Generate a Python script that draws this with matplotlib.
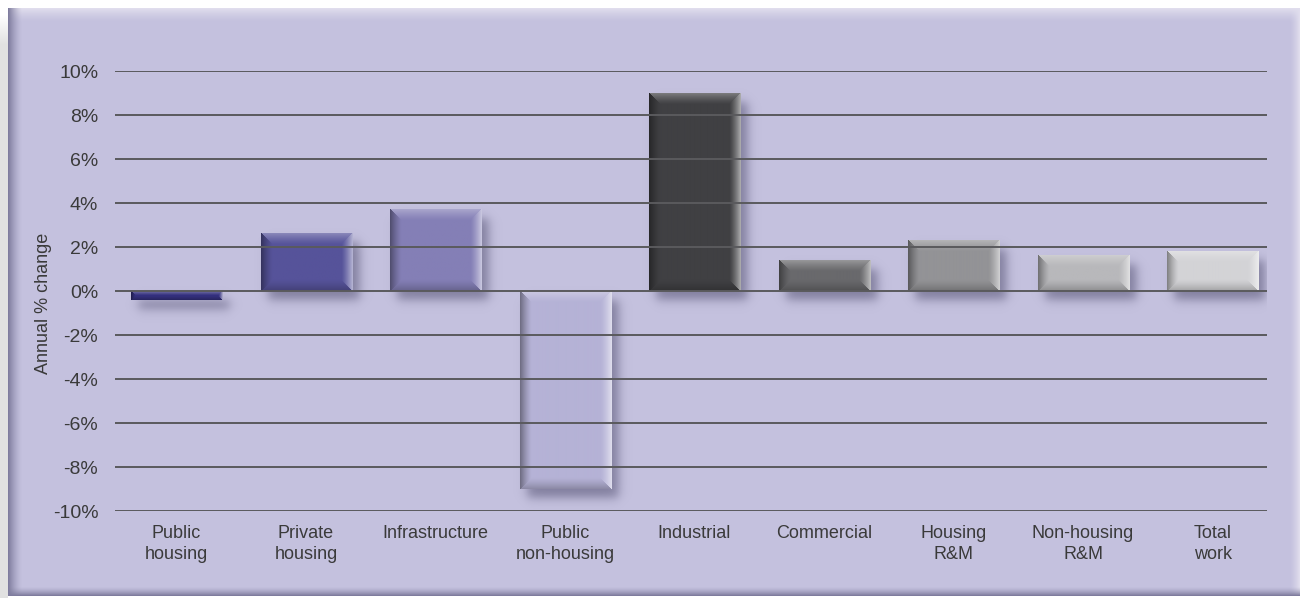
import numpy as np
import matplotlib
matplotlib.use("Agg")
import matplotlib.pyplot as plt
from matplotlib.colors import to_rgb

# ---- data -------------------------------------------------------------
categories = ["Public\nhousing", "Private\nhousing", "Infrastructure",
              "Public\nnon-housing", "Industrial", "Commercial",
              "Housing\nR&M", "Non-housing\nR&M", "Total\nwork"]
values = [-0.4, 2.6, 3.7, -9.0, 9.0, 1.4, 2.3, 1.6, 1.8]
bar_colors = ["#34307e", "#56539a", "#847fb6", "#b5b2d6", "#404043",
              "#69696c", "#939396", "#b8b8bb", "#d3d3d6"]
yticks = [-10, -8, -6, -4, -2, 0, 2, 4, 6, 8, 10]
ytick_labels = [f"{t}%" for t in yticks]
ylabel = "Annual % change"

W, H, DPI = 1311, 598, 100
PANEL = np.array([196, 193, 222]) / 255.0
TEXT = "#3a3a3a"

plt.rcParams["font.family"] = ["Liberation Sans", "DejaVu Sans"]

fig = plt.figure(figsize=(W / DPI, H / DPI), dpi=DPI, facecolor="white")

# ---- framed lavender panel behind the chart ---------------------------
bg = fig.add_axes([0, 0, 1, 1], zorder=-10)
bg.set_axis_off()
img = np.ones((H, W, 3))
yy, xx = np.mgrid[0:H, 0:W].astype(float)
px0, px1, py0, py1 = 8, 1300, 8, 596
inside = (xx >= px0) & (xx < px1) & (yy >= py0) & (yy < py1)
img[inside] = PANEL


def ramp(d, width):
    return np.clip(1 - d / width, 0, 1) ** 1.5


dark = np.array([0.50, 0.49, 0.62])
light = np.array([0.88, 0.87, 0.93])
left = ramp(xx - px0, 14)
top = ramp(yy - py0, 14)
right = ramp(px1 - 1 - xx, 10)
bottom = ramp(py1 - 1 - yy, 9)
for amt, col in [(top, light), (right, light), (left, dark), (bottom, dark)]:
    a = (amt * inside)[..., None]
    img = img * (1 - a) + col * a
# soft grey shadow to the left of the panel
sh = (xx < px0) & (yy > 14)
shade = np.clip((yy - 14) / 30, 0, 1) * 0.26
img[sh] = img[sh] * (1 - shade[sh][:, None]) + np.array([0.55, 0.55, 0.55]) * shade[sh][:, None]
bg.imshow(img, extent=[0, W, 0, H], origin="upper", aspect="auto")
bg.set_xlim(0, W)
bg.set_ylim(0, H)

# ---- main axes --------------------------------------------------------
ax_l, ax_r, ax_t, ax_b = 115, 1267, 71, 511
ax = fig.add_axes([ax_l / W, (H - ax_b) / H, (ax_r - ax_l) / W, (ax_b - ax_t) / H])
ax.set_facecolor("none")
ax.set_xlim(-0.475, 8.42)
ax.set_ylim(-10, 10)
for s in ax.spines.values():
    s.set_visible(False)
ax.set_yticks(yticks)
ax.set_yticklabels(ytick_labels)
ax.set_xticks(range(len(categories)))
ax.set_xticklabels(categories, linespacing=1.28)
ax.tick_params(axis="y", length=0, pad=12, labelsize=14, labelcolor=TEXT)
ax.tick_params(axis="x", length=0, pad=10, labelsize=13, labelcolor=TEXT)
ax.grid(axis="y", color="#5a5a5d", lw=1.4, zorder=1.5)
ax.set_axisbelow(False)
for gl in ax.get_ygridlines():
    gl.set_zorder(1.5)

fig.text(44 / W, 1 - 303 / H, ylabel, rotation=90, ha="center", va="center",
         fontsize=13, color=TEXT)

bar_w = 0.703
ppx = (ax_r - ax_l) / (8.42 + 0.475)      # pixels per x unit
ppy = (ax_b - ax_t) / 20.0                # pixels per y unit


def bevel_image(color, wpx, hpx, band=11):
    base = np.array(to_rgb(color))
    band = max(2, min(band, hpx // 2, wpx // 2))
    yy_, xx_ = np.mgrid[0:hpx, 0:wpx].astype(float)
    dl, dr = xx_, wpx - 1 - xx_
    dt, db = yy_, hpx - 1 - yy_
    d = np.stack([dl, dr, dt, db])
    which = np.argmin(d, axis=0)
    dmin = np.min(d, axis=0)
    t = np.clip(1 - dmin / band, 0, 1) ** 1.3
    hi = base + (1 - base) * 0.55
    lo = base * 0.62
    targets = np.stack([lo, hi, base + (1 - base) * 0.3, base * 0.78])
    tgt = targets[which]
    out = base * (1 - t[..., None]) + tgt * t[..., None]
    return np.clip(out, 0, 1)


def shadow_image(x0, x1, y0, y1, grid_x, grid_y, soft):
    gx = 0.5 * (np.tanh((grid_x - x0) / soft) - np.tanh((grid_x - x1) / soft))
    gy = 0.5 * (np.tanh((grid_y - y0) / soft) - np.tanh((grid_y - y1) / soft))
    a = np.outer(gy, gx) * 0.55
    rgba = np.zeros(a.shape + (4,))
    rgba[..., :3] = np.array([0.30, 0.29, 0.42])
    rgba[..., 3] = a
    return rgba


for i, (v, c) in enumerate(zip(values, bar_colors)):
    xl, xr = i - bar_w / 2, i + bar_w / 2
    yl, yh = min(0, v), max(0, v)
    # drop shadow, offset right and down
    off_x, off_y = 7 / ppx, -9 / ppy
    pad_x, pad_y = 22 / ppx, 22 / ppy
    sx0, sx1 = xl - pad_x + off_x, xr + pad_x + off_x
    sy0, sy1 = yl - pad_y + off_y, yh + pad_y + off_y
    nx = int((sx1 - sx0) * ppx)
    ny = int((sy1 - sy0) * ppy)
    gx = np.linspace(sx0, sx1, nx) * ppx
    gy = np.linspace(sy1, sy0, ny) * ppy
    simg = shadow_image((xl + off_x) * ppx, (xr + off_x) * ppx,
                        (yl + off_y) * ppy, (yh + off_y) * ppy, gx, gy, 6.0)
    ax.imshow(simg, extent=[sx0, sx1, sy0, sy1], origin="upper",
              aspect="auto", zorder=1, interpolation="bilinear")
    # bevelled bar body
    wpx = max(2, int(round((xr - xl) * ppx)))
    hpx = max(2, int(round((yh - yl) * ppy)))
    ax.imshow(bevel_image(c, wpx, hpx), extent=[xl, xr, yl, yh],
              origin="upper", aspect="auto", zorder=2,
              interpolation="bilinear")

ax.set_xlim(-0.475, 8.42)
ax.set_ylim(-10, 10)

fig.savefig("out.png", dpi=DPI, facecolor="white")
